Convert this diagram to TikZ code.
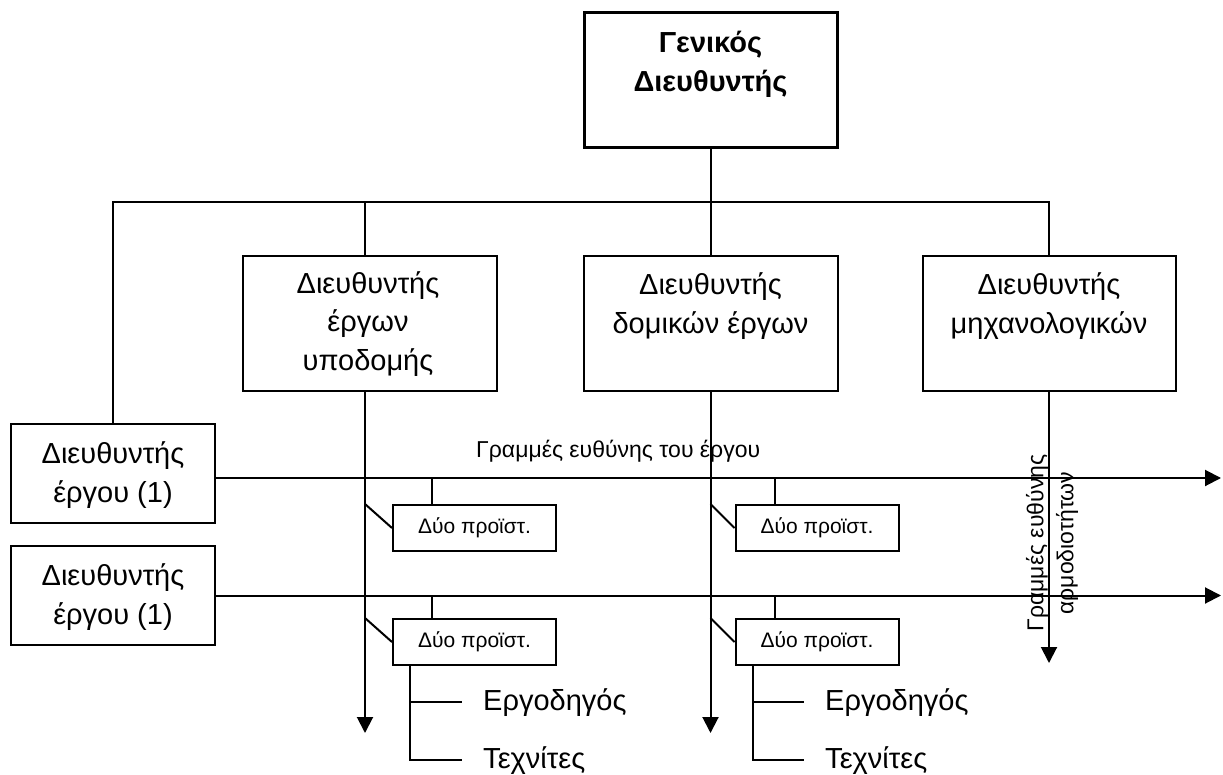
\documentclass[tikz,border=0pt]{standalone}
\usepackage{fontspec}
\setmainfont{Liberation Sans}
\usetikzlibrary{arrows.meta}
\begin{document}
\begin{tikzpicture}[x=1pt,y=-1pt,
  line/.style={draw=black, line width=2pt},
  arr/.style={line, -{Triangle[length=16pt,width=16pt]}},
  box/.style={draw=black, line width=2pt, inner sep=0pt},
  headbox/.style={box, line width=3pt},
  bigtxt/.style={font=\fontsize{29}{38.5}\selectfont, align=center, inner sep=0pt},
  headtxt/.style={bigtxt, font=\fontsize{29}{39}\selectfont\bfseries},
  midtxt/.style={font=\fontsize{23}{30}\selectfont, align=center, inner sep=0pt},
  smalltxt/.style={font=\fontsize{21}{24}\selectfont}
]
\useasboundingbox (0,0) rectangle (1223,775);

% general manager
\node[headbox, minimum width=253pt, minimum height=135pt] (gd) at (710.5,80.5) {};
\node[headtxt] (gdT) at (710.5,64) {Γενικός\\Διευθυντής};

% department managers
\node[box, minimum width=254pt, minimum height=135pt] (hyp) at (370,323.5) {};
\node[bigtxt] (hypT) at (368,324) {Διευθυντής\\έργων\\υποδομής};
\node[box, minimum width=254pt, minimum height=135pt] (dom) at (710.5,323.5) {};
\node[bigtxt] (domT) at (710.5,306) {Διευθυντής\\δομικών έργων};
\node[box, minimum width=253pt, minimum height=135pt] (mech) at (1049,323.5) {};
\node[bigtxt] (mechT) at (1049,306) {Διευθυντής\\μηχανολογικών};

% project managers
\node[box, minimum width=204pt, minimum height=99pt] (pm1) at (113,473.5) {};
\node[bigtxt] (pm1T) at (113,475) {Διευθυντής\\έργου (1)};
\node[box, minimum width=204pt, minimum height=99pt] (pm2) at (113,595.5) {};
\node[bigtxt] (pm2T) at (113,597) {Διευθυντής\\έργου (1)};

% supervisors
\node[box, smalltxt, minimum width=163pt, minimum height=46pt] (s1) at (474.5,528) {Δύο προϊστ.};
\node[box, smalltxt, minimum width=163pt, minimum height=46pt] (s2) at (474.5,642) {Δύο προϊστ.};
\node[box, smalltxt, minimum width=163pt, minimum height=46pt] (s3) at (817,528) {Δύο προϊστ.};
\node[box, smalltxt, minimum width=163pt, minimum height=46pt] (s4) at (817,642) {Δύο προϊστ.};

% foremen and craftsmen
\node[bigtxt, anchor=base west] (f1) at (483,710) {Εργοδηγός};
\node[bigtxt, anchor=base west] (c1) at (483,768) {Τεχνίτες};
\node[bigtxt, anchor=base west] (f2) at (825,710) {Εργοδηγός};
\node[bigtxt, anchor=base west] (c2) at (825,768) {Τεχνίτες};

% labels of the two line systems
\node[midtxt, anchor=base west] (lblP) at (476,457) {Γραμμές ευθύνης του έργου};
\node[midtxt, rotate=90] (lblC) at (1052,543) {Γραμμές ευθύνης\\αρμοδιοτήτων};

% reference points
\coordinate (bar) at (0,202);
\coordinate (r1) at (1221,478);
\coordinate (r2) at (1221,595.5);
\coordinate (d1) at (0,733);
\coordinate (d2) at (0,663);
\coordinate (hn) at ([xshift=-5pt]hyp.north);
\coordinate (hs) at ([xshift=-5pt]hyp.south);

% hierarchy tree
\draw[line] (gd.south) -- (dom.north);
\draw[line] (pm1.north) -- (pm1.north |- bar) -- (mech.north |- bar) -- (mech.north);
\draw[line] (hn |- bar) -- (hn);

% project lines
\draw[arr] (pm1.east |- r1) -- (r1);
\draw[arr] (pm2.east) -- (r2);

% competence lines
\draw[arr] (hs) -- (hs |- d1);
\draw[arr] (dom.south) -- (dom.south |- d1);
\draw[arr] (mech.south) -- (mech.south |- d2);

% supervisors hooked to both line systems
\foreach \s/\r/\v in {s1/r1/hs, s2/r2/hs, s3/r1/dom.south, s4/r2/dom.south}{
  \draw[line] ([xshift=40pt]\s.north west) -- ([xshift=40pt]\s.north west |- \r);
  \draw[line] (\v |- \s.north) -- (\s.west);
}

% crews under the lower supervisors
\foreach \s/\f/\c in {s2/f1/c1, s4/f2/c2}{
  \draw[line] ([xshift=18pt]\s.south west) |- ([xshift=-21pt]\c.west);
  \draw[line] ([xshift=18pt]\s.south west |- \f.west) -- ([xshift=-21pt]\f.west);
}
\end{tikzpicture}
\end{document}
